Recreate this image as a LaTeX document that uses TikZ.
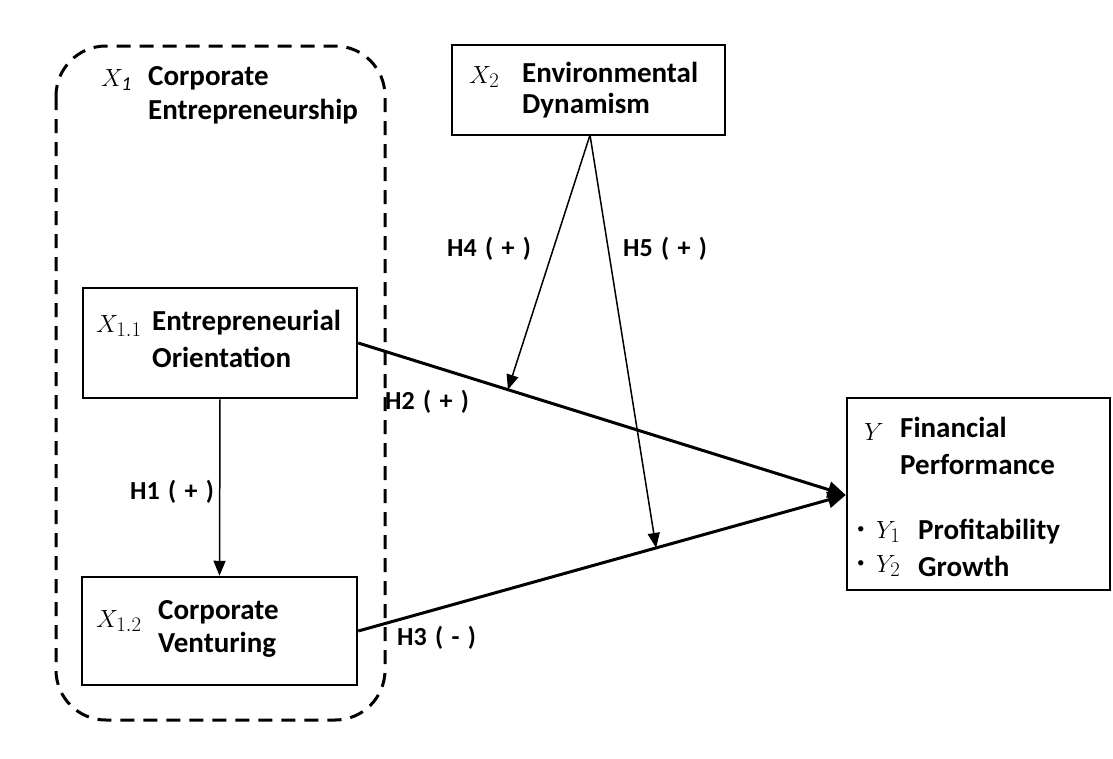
\documentclass[tikz,border=0pt]{standalone}
\usepackage{fontspec}
\setmainfont{Carlito}
\usetikzlibrary{arrows.meta,calc}
\newcommand{\hs}{\hspace{0.32em}}
\begin{document}
\begin{tikzpicture}[x=1pt,y=-1pt,
  box/.style={draw,line width=2.5pt,inner sep=0pt},
  txt/.style={anchor=west,inner sep=0pt,font=\fontsize{29}{34}\selectfont\bfseries},
  mth/.style={anchor=west,inner sep=0pt,font=\fontsize{28}{34}\selectfont},
  bul/.style={anchor=west,inner sep=0pt,font=\fontsize{15}{18}\selectfont},
  hyp/.style={anchor=west,inner sep=0pt,font=\fontsize{26}{30}\selectfont\bfseries},
  thick arr/.style={line width=3pt,-{Triangle[length=18pt,width=16pt]}},
  thin arr/.style={line width=1.5pt,-{Triangle[length=15pt,width=12pt]}}]
\useasboundingbox (0,0) rectangle (1113,758);
% dashed group
\draw[line width=3pt,dash pattern=on 14pt off 9pt,rounded corners=50pt] (56,46) rectangle (385,720);
% boxes
\node[box,minimum width=273pt,minimum height=90pt] (x2) at (588.5,90) {};
\node[box,minimum width=274pt,minimum height=110pt] (x11) at (220,343) {};
\node[box,minimum width=275pt,minimum height=108pt] (x12) at (219.5,631) {};
\node[box,minimum width=263pt,minimum height=192pt] (y) at (978.5,494) {};
% texts
\node[mth] (tx1) at (101,80) {$X_{\mathit{1}}$};
\node[txt] (tx1a) at (148,78) {Corporate};
\node[txt] (tx1b) at (148,112) {Entrepreneurship};
\node[mth] (tx2) at (469,77) {$X_2$};
\node[txt] (tx2a) at (522,72) {Environmental};
\node[txt] (tx2b) at (522,106) {Dynamism};
\node[mth] (tx11) at (96,326) {$X_{1.1}$};
\node[txt] (tx11a) at (152,323) {Entrepreneurial};
\node[txt] (tx11b) at (152,357) {Orientation};
\node[mth] (tx12) at (96,621) {$X_{1.2}$};
\node[txt] (tx12a) at (158,612) {Corporate};
\node[txt] (tx12b) at (158,645) {Venturing};
\node[mth] (ty) at (864,432) {$Y$};
\node[txt] (tya) at (900,427) {Financial};
\node[txt] (tyb) at (900,465) {Performance};
\node[bul] (b1) at (857,530) {\textbullet};
\node[mth] (ty1) at (876,532) {$Y_1$};
\node[txt] (ty1a) at (918,532) {Profitability};
\node[bul] (b2) at (857,564) {\textbullet};
\node[mth] (ty2) at (876,566) {$Y_2$};
\node[txt] (ty2a) at (918,566) {Growth};
% hypothesis labels
\node[hyp] (h1) at (130,492) {H1\hs(\hs+\hs)};
\node[hyp] (h2) at (385,402) {H2\hs(\hs+\hs)};
\node[hyp] (h3) at (397,638) {H3\hs(\hs-\hs)};
\node[hyp] (h4) at (447,249) {H4\hs(\hs+\hs)};
\node[hyp] (h5) at (623,249) {H5\hs(\hs+\hs)};
% connectors
\coordinate (yin) at (y.west |- 0,495);
\draw[thick arr] (x11.east) -- (yin);
\draw[thick arr] (x12.east) -- (yin);
\draw[thin arr] (x11.south) -- (x12.north);
\coordinate (x2b) at (590,135);
\coordinate (m2) at ($(x11.east)!0.307!(yin)$);
\coordinate (m3) at ($(x12.east)!0.611!(yin)$);
\draw[thin arr] (x2b) -- (m2);
\draw[thin arr] (x2b) -- (m3);
\end{tikzpicture}
\end{document}
